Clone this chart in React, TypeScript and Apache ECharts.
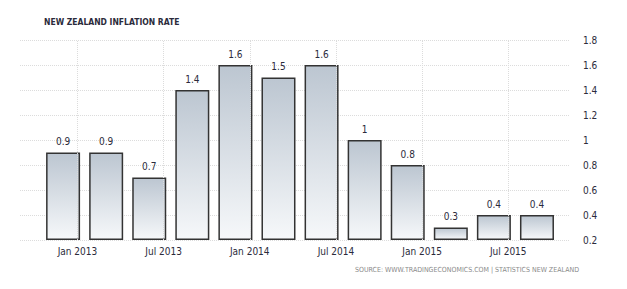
import React, { useEffect, useRef } from "react";
import * as echarts from "echarts";

const periods = ["2012-12", "2013-03", "2013-06", "2013-09", "2013-12", "2014-03", "2014-06", "2014-09", "2014-12", "2015-03", "2015-06", "2015-09"];
const inflation = [0.9, 0.9, 0.7, 1.4, 1.6, 1.5, 1.6, 1, 0.8, 0.3, 0.4, 0.4];
const xTickMonths = ["2013-01", "2013-07", "2014-01", "2014-07", "2015-01", "2015-07"];
const xTickLabels = ["Jan 2013", "Jul 2013", "Jan 2014", "Jul 2014", "Jan 2015", "Jul 2015"];

const monthIndex = (p: string) => {
  const [y, m] = p.split("-").map(Number);
  return (y - 2013) * 12 + (m - 1);
};

export default function App() {
  const ref = useRef<HTMLDivElement>(null);
  useEffect(() => {
    if (!ref.current) return;
    const chart = echarts.init(ref.current, null, { renderer: "svg" });
    const tickPos = xTickMonths.map(monthIndex);
    const font = "'DejaVu Sans Condensed', 'DejaVu Sans', sans-serif";
    chart.setOption({
      animation: false,
      backgroundColor: "#ffffff",
      title: {
        text: "NEW ZEALAND INFLATION RATE",
        left: 39,
        top: 12,
        textStyle: { fontFamily: font, fontSize: 8.5, fontWeight: "bold", color: "#2b2b3b" },
      },
      graphic: [
        {
          type: "text",
          right: 48,
          top: 266,
          style: {
            text: "SOURCE: WWW.TRADINGECONOMICS.COM | STATISTICS NEW ZEALAND",
            font: "7px " + font,
            fill: "#8a8a8a",
          },
        },
      ],
      grid: { left: 20, right: 57, top: 40, bottom: 49 },
      xAxis: {
        type: "value",
        min: -4,
        max: 34.3,
        axisLine: { show: false },
        axisTick: { show: false },
        splitLine: { show: false },
        axisLabel: {
          customValues: tickPos,
          formatter: (v: number) => {
            const i = tickPos.indexOf(Math.round(v));
            return i >= 0 ? xTickLabels[i] : "";
          },
          fontFamily: font,
          fontSize: 10,
          color: "#2b2b3b",
          margin: 6,
        },
      },
      yAxis: {
        type: "value",
        position: "right",
        min: 0.2,
        max: 1.8,
        interval: 0.2,
        startValue: 0.2,
        axisLine: { show: false },
        axisTick: { show: false },
        splitLine: { show: true, lineStyle: { color: "#dcdcdc", type: "dotted", width: 1 } },
        axisLabel: {
          margin: 13,
          fontFamily: font,
          fontSize: 10,
          color: "#2b2b3b",
          formatter: (v: number) => String(Math.round(v * 10) / 10),
        },
      },
      series: [
        {
          type: "bar",
          data: periods.map((p, i) => [monthIndex(p), inflation[i]]),
          barWidth: 34,
          clip: false,
          itemStyle: {
            color: new echarts.graphic.LinearGradient(0, 0, 0, 1, [
              { offset: 0, color: "#bcc6d1" },
              { offset: 1, color: "#f6f8fa" },
            ]),
            borderColor: "#333333",
            borderWidth: 1.5,
          },
          label: {
            show: true,
            position: "top",
            distance: 6,
            fontFamily: font,
            fontSize: 10,
            color: "#2b2b3b",
            formatter: (p: any) => String(p.value[1]),
          },
          markLine: {
            silent: true,
            symbol: "none",
            label: { show: false },
            lineStyle: { color: "#dcdcdc", type: "dotted", width: 1 },
            data: tickPos.map((v) => ({ xAxis: v })),
          },
        },
      ],
    });
    return () => chart.dispose();
  }, []);
  return <div ref={ref} style={{ position: "fixed", left: 0, top: 0, width: 627, height: 289 }} />;
}
